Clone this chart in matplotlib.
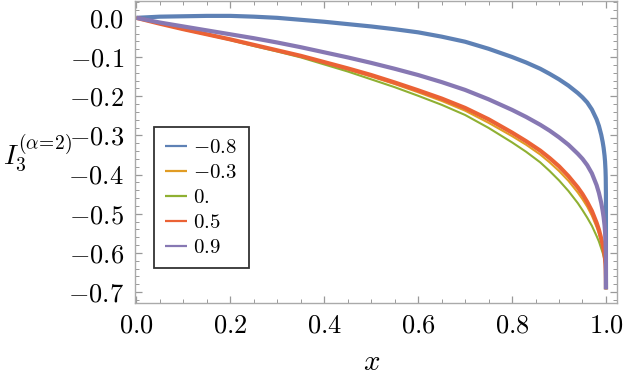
import matplotlib
matplotlib.use("Agg")
import matplotlib.pyplot as plt
from matplotlib.ticker import MultipleLocator, FixedLocator, FixedFormatter

plt.rcParams['font.family'] = 'serif'
plt.rcParams['font.serif'] = ['cmr10', 'DejaVu Serif']
plt.rcParams['mathtext.fontset'] = 'cm'

# values
x = [0, 0.05, 0.1, 0.15, 0.2, 0.25, 0.3, 0.35, 0.4, 0.45, 0.5, 0.55, 0.6,
     0.65, 0.7, 0.75, 0.8, 0.83, 0.86, 0.88, 0.9, 0.92, 0.94, 0.95, 0.96,
     0.97, 0.98, 0.985, 0.99, 0.993, 0.995, 0.997, 0.998, 0.999, 0.9995,
     0.9999, 1.0]
y_m08 = [0, 0.003, 0.004, 0.005, 0.005, 0.003, 0.0, -0.005, -0.01, -0.016,
         -0.022, -0.029, -0.037, -0.048, -0.061, -0.079, -0.100, -0.114,
         -0.13, -0.143, -0.157, -0.173, -0.192, -0.203, -0.216, -0.234, -0.259,
         -0.276, -0.299, -0.317, -0.332, -0.352, -0.366, -0.388, -0.408, -0.45,
         -0.693]
y_m03 = [0, -0.015, -0.029, -0.042, -0.056, -0.070, -0.084, -0.098, -0.115,
         -0.132, -0.150, -0.169, -0.19, -0.212, -0.237, -0.268, -0.302, -0.324,
         -0.349, -0.369, -0.391, -0.416, -0.446, -0.463, -0.482, -0.505, -0.534,
         -0.551, -0.573, -0.587, -0.598, -0.611, -0.62, -0.635, -0.647, -0.669,
         -0.693]
y_00 = [0, -0.015, -0.030, -0.043, -0.057, -0.072, -0.086, -0.101, -0.119,
        -0.137, -0.157, -0.177, -0.199, -0.222, -0.248, -0.281, -0.318, -0.342,
        -0.369, -0.391, -0.415, -0.442, -0.473, -0.491, -0.51, -0.531, -0.557,
        -0.571, -0.589, -0.6, -0.609, -0.619, -0.626, -0.639, -0.65, -0.67,
        -0.693]
y_05 = [0, -0.015, -0.029, -0.042, -0.055, -0.069, -0.083, -0.097, -0.113,
        -0.129, -0.146, -0.165, -0.185, -0.206, -0.23, -0.259, -0.293, -0.315,
        -0.339, -0.358, -0.379, -0.404, -0.433, -0.45, -0.47, -0.493, -0.523,
        -0.541, -0.564, -0.579, -0.591, -0.605, -0.615, -0.631, -0.644, -0.667,
        -0.693]
y_09 = [0, -0.012, -0.022, -0.032, -0.042, -0.052, -0.063, -0.075, -0.088,
        -0.101, -0.115, -0.13, -0.146, -0.164, -0.184, -0.208, -0.235, -0.253,
        -0.273, -0.288, -0.305, -0.324, -0.347, -0.36, -0.376, -0.397, -0.427,
        -0.447, -0.473, -0.493, -0.509, -0.53, -0.546, -0.57, -0.59, -0.625,
        -0.693]

labels = ['$-0.8$', '$-0.3$', '$0.$', '$0.5$', '$0.9$']
series = [y_m08, y_m03, y_00, y_05, y_09]
colors = ['#5E81B5', '#E19C24', '#8FB032', '#EB6235', '#8778B3']
widths = [3.0, 1.5, 1.5, 3.0, 3.0]

xticks = [0.0, 0.2, 0.4, 0.6, 0.8, 1.0]
xticklabels = ['$0.0$', '$0.2$', '$0.4$', '$0.6$', '$0.8$', '$1.0$']
yticks = [0.0, -0.1, -0.2, -0.3, -0.4, -0.5, -0.6, -0.7]
yticklabels = ['$0.0$', '$-0.1$', '$-0.2$', '$-0.3$', '$-0.4$', '$-0.5$',
               '$-0.6$', '$-0.7$']

fig = plt.figure(figsize=(6.23, 3.83), dpi=100)
ax = fig.add_axes([0.2167, 0.2089, 0.7733, 0.7885])

for ys, lab, c, w in zip(series, labels, colors, widths):
    ax.plot(x, ys, color=c, lw=w, label=lab, solid_capstyle='butt',
            solid_joinstyle='round')

ax.set_xlim(-0.003, 1.023)
ax.set_ylim(-0.728, 0.043)

ax.xaxis.set_major_locator(FixedLocator(xticks))
ax.xaxis.set_major_formatter(FixedFormatter(xticklabels))
ax.yaxis.set_major_locator(FixedLocator(yticks))
ax.yaxis.set_major_formatter(FixedFormatter(yticklabels))
ax.xaxis.set_minor_locator(MultipleLocator(0.05))
ax.yaxis.set_minor_locator(MultipleLocator(0.02))

for s in ax.spines.values():
    s.set_color('#aaaaaa')
    s.set_linewidth(1.0)
ax.tick_params(which='both', direction='in', top=True, right=True,
               color='#999999', labelsize=19, labelcolor='black')
ax.tick_params(which='major', length=5, width=0.9)
ax.tick_params(which='minor', length=3, width=0.7)
ax.tick_params(axis='y', which='major', pad=8)
ax.tick_params(axis='x', which='major', pad=8)

fig.text(0.597, 0.052, '$x$', fontsize=21, ha='center', va='center')
fig.text(0.005, 0.6, r'$I_3^{(\alpha\!=\!2)}$', fontsize=20, ha='left', va='center')

leg = ax.legend(loc='lower left', bbox_to_anchor=(0.039, 0.115), borderaxespad=0,
                fontsize=15, frameon=True, fancybox=False, edgecolor='black',
                handlelength=1.05, handletextpad=0.3, labelspacing=0.3,
                borderpad=0.55)
leg.get_frame().set_linewidth(1.3)
for h in leg.get_lines():
    h.set_linewidth(1.6)

fig.savefig('out.png', dpi=100)
